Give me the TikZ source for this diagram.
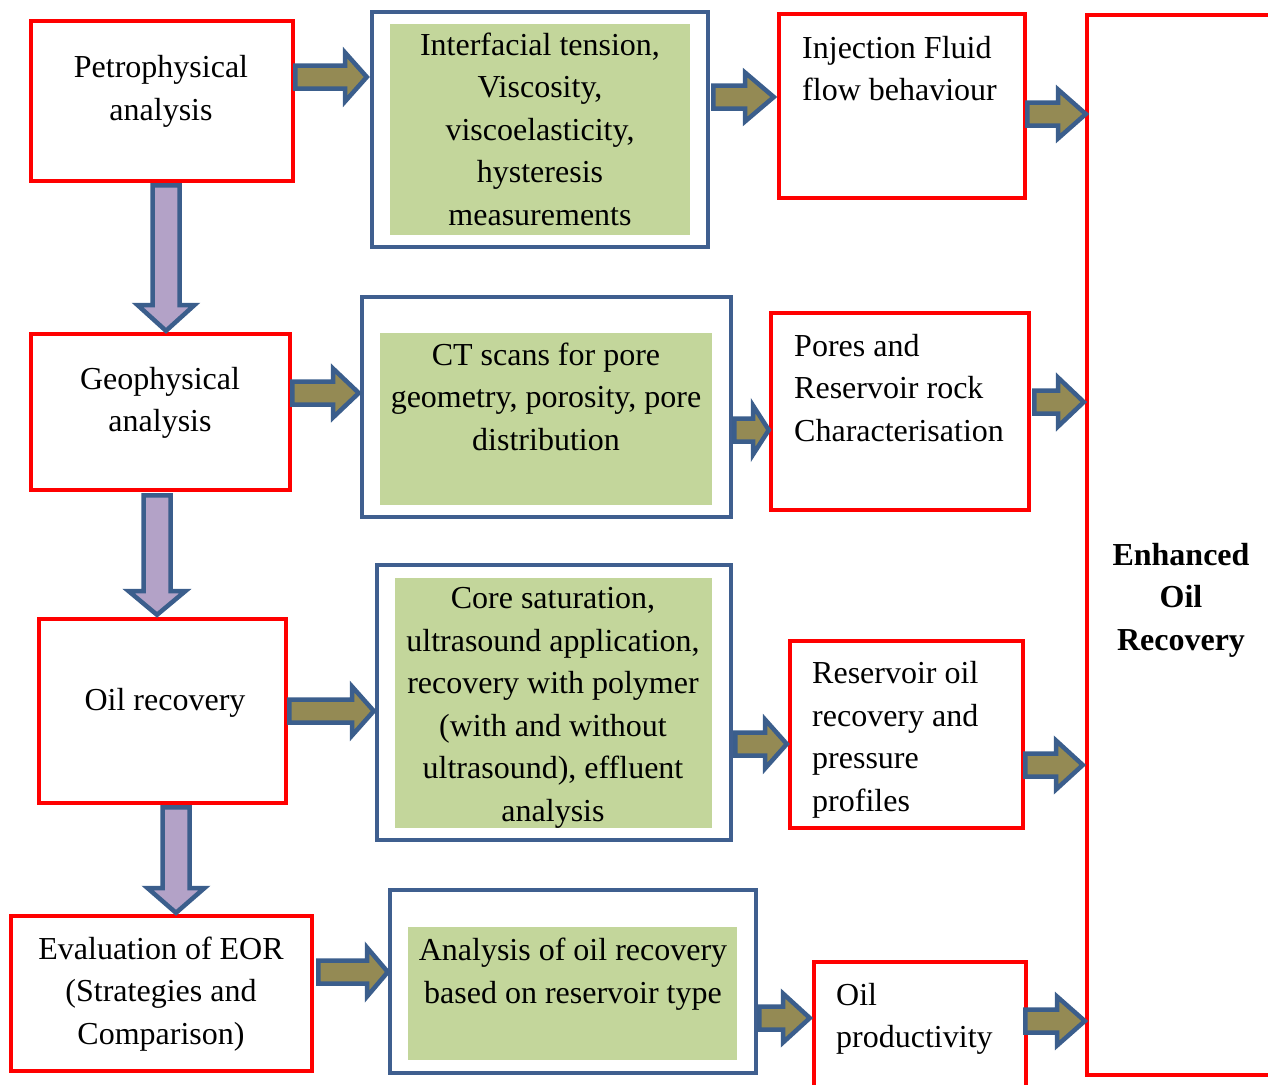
\documentclass[tikz,border=0pt]{standalone}
\usepackage{fontspec}
\setmainfont{Liberation Serif}
\usetikzlibrary{fit}
\definecolor{boxred}{HTML}{FF0000}
\definecolor{boxblue}{HTML}{3F5F8F}
\definecolor{boxgreen}{HTML}{C3D69B}
\definecolor{arrblue}{HTML}{3B5E8C}
\definecolor{arrolive}{HTML}{948A54}
\definecolor{arrlilac}{HTML}{B3A2C7}
\tikzset{
  redbox/.style={draw=boxred, line width=4pt, inner sep=0pt},
  bluebox/.style={draw=boxblue, line width=4.5pt, inner sep=0pt},
  greenbox/.style={fill=boxgreen, inner sep=0pt},
  txt/.style={font=\fontsize{32}{42.5}\selectfont, align=center, inner sep=0pt},
  ltxt/.style={txt, align=left, anchor=west},
  rarrow/.style={draw=arrblue, fill=arrolive, line width=4.5pt, line join=miter},
  darrow/.style={draw=arrblue, fill=arrlilac, line width=4.5pt, line join=miter},
}
\newcommand\rblock[4]{%
  \draw[rarrow] ({#1+2.3},{#4-11.5}) -- (#2,{#4-11.5}) -- (#2,{#4-24.5}) -- ({#3-3.2},#4)
    -- (#2,{#4+24.5}) -- (#2,{#4+11.5}) -- ({#1+2.3},{#4+11.5}) -- cycle;}
\newcommand\dblock[4]{%
  \draw[darrow] ({#1-13.5},{#2+2.3}) -- ({#1-13.5},#3) -- ({#1-28.5},#3) -- (#1,{#4-3.2})
    -- ({#1+28.5},#3) -- ({#1+13.5},#3) -- ({#1+13.5},{#2+2.3}) -- cycle;}
\begin{document}
\begin{tikzpicture}[x=1pt,y=-1pt]
\useasboundingbox (0,0) rectangle (1268,1084);
\clip (0,0) rectangle (1268,1084);
% left column
\node[redbox, fit={(31,21) (293,181)}] (petro) {};
\node[redbox, fit={(31,334) (290,490)}] (geo) {};
\node[redbox, fit={(39,619) (286,803)}] (oilrec) {};
\node[redbox, fit={(11,916) (312,1071)}] (eval) {};
% middle column
\node[bluebox, fit={(372,12) (708,247)}] (m1) {};
\node[greenbox, fit={(390,24) (690,235)}] (g1) {};
\node[bluebox, fit={(362,297) (731,517)}] (m2) {};
\node[greenbox, fit={(380,333) (712,505)}] (g2) {};
\node[bluebox, fit={(377,565) (731,840)}] (m3) {};
\node[greenbox, fit={(395,578) (712,828)}] (g3) {};
\node[bluebox, fit={(390,890) (756,1073)}] (m4) {};
\node[greenbox, fit={(408,927) (737,1060)}] (g4) {};
% right column
\node[redbox, fit={(779,14) (1025,198)}] (r1) {};
\node[redbox, fit={(771,313) (1029,510)}] (r2) {};
\node[redbox, fit={(790,641) (1023,828)}] (r3) {};
\node[redbox, fit={(814,962) (1026,1100)}] (r4) {};
\node[redbox, fit={(1087,15) (1300,1075)}] (eor) {};
% texts
\node[txt] (petrot) at (161,91.5) {Petrophysical\\analysis};
\node[txt] (geot) at (160,403) {Geophysical\\analysis};
\node[txt] (oilrect) at (165,703) {Oil recovery};
\node[txt] (evalt) at (161,994) {Evaluation of EOR\\(Strategies and\\Comparison)};
\node[txt] (g1t) at (540,129) {Interfacial tension,\\Viscosity,\\viscoelasticity,\\hysteresis\\measurements};
\node[txt] (g2t) at (546,396.5) {CT scans for pore\\geometry, porosity, pore\\distribution};
\node[txt] (g3t) at (553,708) {Core saturation,\\ultrasound application,\\recovery with polymer\\(with and without\\ultrasound), effluent\\analysis};
\node[txt] (g4t) at (573,974) {Analysis of oil recovery\\based on reservoir type};
\node[ltxt] (r1t) at (802,68.5) {Injection Fluid\\flow behaviour};
\node[ltxt] (r2t) at (794,388) {Pores and\\Reservoir rock\\Characterisation};
\node[ltxt] (r3t) at (812,740) {Reservoir oil\\recovery and\\pressure\\profiles};
\node[ltxt] (r4t) at (836,1019) {Oil\\productivity};
\node[txt, font=\fontsize{32}{42.5}\selectfont\bfseries] (eort) at (1181,600) {Enhanced\\Oil\\Recovery};
% down arrows
\dblock{166}{183}{305}{334}
\dblock{157}{493}{591}{618}
\dblock{176}{805}{888}{916}
% right arrows row 1
\rblock{293}{345}{370}{77}
\rblock{711}{745}{777}{97}
\rblock{1025}{1058}{1089}{114}
% row 2
\rblock{290}{333}{362}{393}
\rblock{732}{753}{772}{430}
\rblock{1032}{1058}{1087}{402}
% row 3
\rblock{287}{352}{377}{711}
\rblock{733}{765}{790}{744}
\rblock{1023}{1056}{1086}{765}
% row 4
\rblock{316}{367}{391}{972}
\rblock{757}{783}{813}{1018}
\rblock{1023}{1057}{1088}{1021}
\end{tikzpicture}
\end{document}
